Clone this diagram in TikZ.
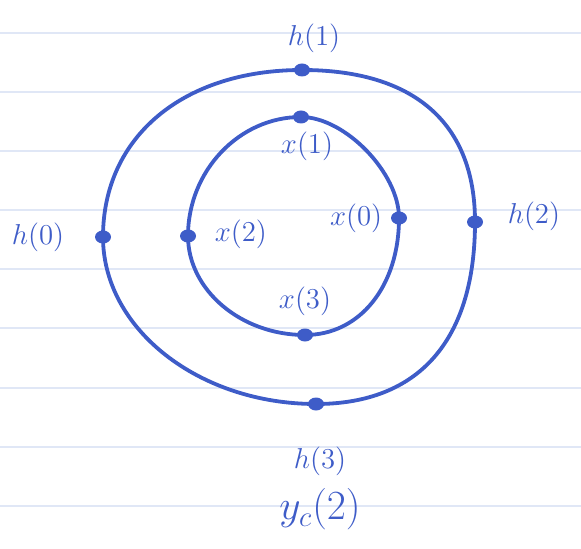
\documentclass[tikz,border=0pt]{standalone}
\usepackage{tikz}
\usetikzlibrary{positioning,shapes.geometric}
\definecolor{ink}{RGB}{62,92,200}
\definecolor{paper}{RGB}{224,231,246}

\begin{document}
\begin{tikzpicture}[x=0.5pt,y=-0.5pt,
        dot/.style={ellipse,fill=ink,inner sep=0pt,minimum width=8pt,minimum height=6.5pt},
        lbl/.style={text=ink,font=\Large,inner sep=1pt},
        ring/.style={draw=ink,line width=1.9pt},
        rule/.style={draw=paper,line width=0.9pt}]
        \useasboundingbox (0,0) rectangle (581,549);
        % ruled paper
        \foreach \y in {33,92,151,210,269,328,388,447,506}
            \draw[rule] (0,\y) -- (581,\y);
        % points on the outer ring
        \node[dot] (o1) at (302,70) {};
        \node[dot] (o2) at (475,222) {};
        \node[dot] (o3) at (316,404) {};
        \node[dot] (o0) at (103,237) {};
        % points on the inner ring
        \node[dot] (i1) at (301,117) {};
        \node[dot] (i0) at (399,218) {};
        \node[dot] (i3) at (305,335) {};
        \node[dot] (i2) at (188,236) {};
        \draw[ring] (o1.center) .. controls (414,70) and (475,123) .. (o2.center)
            .. controls (475,340) and (419,404) .. (o3.center)
            .. controls (199,404) and (103,329) .. (o0.center)
            .. controls (103,137) and (183,70) .. cycle;
        \draw[ring] (i1.center) .. controls (345,117) and (399,173) .. (i0.center)
            .. controls (399,286) and (360,335) .. (i3.center)
            .. controls (241,335) and (188,290) .. (i2.center)
            .. controls (188,171) and (239,117) .. cycle;
        % labels
        \node[lbl,above=4pt of o1,xshift=6pt] (h1) {$h(1)$};
        \node[lbl,left=14pt of o0] (h0) {$h(0)$};
        \node[lbl,right=11pt of o2,yshift=3pt] (h2) {$h(2)$};
        \node[lbl,below=17pt of o3,xshift=2pt] (h3) {$h(3)$};
        \node[lbl,below=3pt of i1,xshift=3pt] (x1) {$x(1)$};
        \node[lbl,right=8pt of i2,yshift=1pt] (x2) {$x(2)$};
        \node[lbl,left=3pt of i0] (x0) {$x(0)$};
        \node[lbl,above=5pt of i3] (x3) {$x(3)$};
        \node[lbl,font=\huge,below=4pt of h3] (yc) {$y_c(2)$};
    \end{tikzpicture}
\end{document}
